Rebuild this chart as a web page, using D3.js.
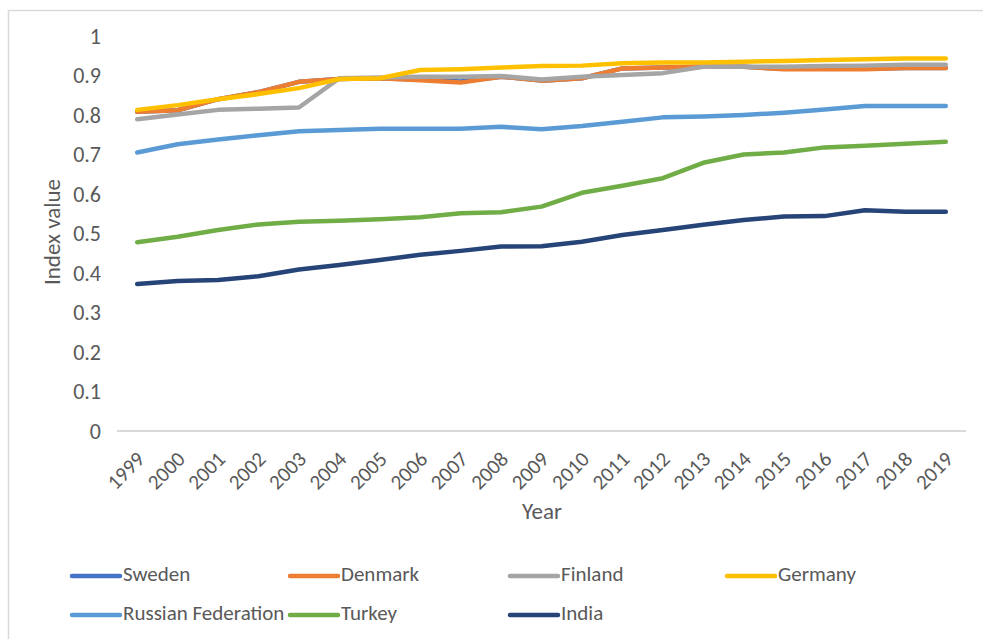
<!DOCTYPE html>
<html>
<head>
<meta charset="utf-8">
<script src="https://cdn.jsdelivr.net/npm/d3@7"></script>
<style>
  body { margin: 0; background: #fff; }
  text { font-family: Carlito, Calibri, "Liberation Sans Narrow", "Open Sans", sans-serif; fill: #595959; }
</style>
</head>
<body>
<div id="chart"></div>
<script>
const years = ["1999","2000","2001","2002","2003","2004","2005","2006","2007","2008","2009",
               "2010","2011","2012","2013","2014","2015","2016","2017","2018","2019"];
const yTicks = [0, 0.1, 0.2, 0.3, 0.4, 0.5, 0.6, 0.7, 0.8, 0.9, 1];

// Sweden sits underneath the Nordic/German lines and is not visible in the chart
const sweden   = [0.808,0.812,0.840,0.858,0.884,0.891,0.893,0.890,0.885,0.897,0.887,0.893,0.918,0.920,0.922,0.922,0.917,0.917,0.917,0.919,0.919];
const denmark  = [0.808,0.812,0.840,0.858,0.884,0.891,0.893,0.888,0.882,0.897,0.887,0.893,0.918,0.920,0.922,0.922,0.916,0.916,0.916,0.919,0.919];
const finland  = [0.789,0.801,0.813,0.816,0.819,0.893,0.895,0.897,0.897,0.899,0.890,0.897,0.901,0.906,0.922,0.922,0.922,0.924,0.925,0.927,0.927];
const germany  = [0.813,0.825,0.840,0.853,0.868,0.891,0.893,0.914,0.916,0.920,0.924,0.925,0.931,0.933,0.933,0.935,0.937,0.939,0.941,0.943,0.943];
const russia   = [0.705,0.726,0.738,0.749,0.759,0.762,0.765,0.765,0.765,0.770,0.764,0.772,0.783,0.794,0.796,0.800,0.806,0.814,0.823,0.823,0.823];
const turkey   = [0.478,0.492,0.509,0.523,0.530,0.532,0.536,0.541,0.551,0.554,0.568,0.603,0.621,0.640,0.679,0.700,0.705,0.718,0.722,0.727,0.732];
const india    = [0.372,0.380,0.382,0.392,0.409,0.420,0.433,0.446,0.456,0.467,0.468,0.479,0.496,0.509,0.522,0.534,0.543,0.544,0.559,0.555,0.555];

const seriesNames  = ["Sweden","Denmark","Finland","Germany","Russian Federation","Turkey","India"];
const seriesValues = [sweden, denmark, finland, germany, russia, turkey, india];
const seriesColors = ["#4472C4","#ED7D31","#A5A5A5","#FFC000","#5B9BD5","#70AD47","#264478"];

const W = 983, H = 639;
const margin = {top: 36, left: 117, right: 17, bottom: 208};
const width = W - margin.left - margin.right,
      height = H - margin.top - margin.bottom;

const svg = d3.select("#chart").append("svg")
    .attr("width", W)
    .attr("height", H);

// chart frame (only top/left edges fall inside the picture)
svg.append("rect")
    .attr("x", 8.5).attr("y", 10.5)
    .attr("width", W + 20).attr("height", H + 20)
    .attr("fill", "none")
    .attr("stroke", "#d9d9d9")
    .attr("stroke-width", 1.5);

const g = svg.append("g")
    .attr("transform", `translate(${margin.left},${margin.top})`);

const x = d3.scaleBand()
    .domain(years)
    .range([0, width]);

const y = d3.scaleLinear()
    .domain([0, 1])
    .range([height, 0]);

// y tick labels
const yAxis = d3.axisLeft(y)
    .tickValues(yTicks)
    .tickFormat(d => d === 0 || d === 1 ? d3.format("d")(d) : d3.format(".1f")(d))
    .tickSize(0)
    .tickPadding(16);

g.append("g")
    .attr("class", "y axis")
    .call(yAxis)
    .call(s => s.select(".domain").remove())
    .selectAll("text")
      .style("font-size", "22px")
      .style("fill", "#595959");

// baseline
g.append("line")
    .attr("x1", 0).attr("x2", width)
    .attr("y1", y(0)).attr("y2", y(0))
    .attr("stroke", "#d9d9d9")
    .attr("stroke-width", 2);

// x tick labels
const xAxis = d3.axisBottom(x)
    .tickSize(0)
    .tickPadding(0);

g.append("g")
    .attr("class", "x axis")
    .attr("transform", `translate(0,${height})`)
    .call(xAxis)
    .call(s => s.select(".domain").remove())
    .selectAll("text")
      .attr("dy", null)
      .attr("transform", "translate(5,26) rotate(-45)")
      .style("text-anchor", "end")
      .style("dominant-baseline", "middle")
      .style("font-size", "21px")
      .style("fill", "#595959");

g.selectAll(".axis").attr("font-family", null);

// axis titles
g.append("text")
    .attr("transform", `translate(${55 - margin.left},${232 - margin.top}) rotate(-90)`)
    .attr("text-anchor", "middle")
    .attr("dominant-baseline", "middle")
    .style("font-size", "23px")
    .text("Index value");

g.append("text")
    .attr("x", 542 - margin.left)
    .attr("y", 514 - margin.top)
    .attr("text-anchor", "middle")
    .attr("dominant-baseline", "middle")
    .style("font-size", "23px")
    .text("Year");

// lines
const line = d3.line()
    .x((d, i) => x(years[i]) + x.bandwidth() / 2)
    .y(d => y(d));

g.selectAll(".series")
    .data(seriesValues)
  .enter().append("path")
    .attr("class", "series")
    .attr("d", line)
    .attr("fill", "none")
    .attr("stroke", (d, i) => seriesColors[i])
    .attr("stroke-width", 4.5)
    .attr("stroke-linejoin", "round")
    .attr("stroke-linecap", "round");

// legend
const legendX = [72, 290, 510, 727];
const legendY = [576, 615];

const legend = svg.selectAll(".legend")
    .data(seriesNames)
  .enter().append("g")
    .attr("class", "legend")
    .attr("transform", (d, i) => `translate(${legendX[i % 4]},${legendY[Math.floor(i / 4)]})`);

legend.append("line")
    .attr("x1", 0).attr("x2", 48)
    .attr("stroke", (d, i) => seriesColors[i])
    .attr("stroke-width", 4.5)
    .attr("stroke-linecap", "round");

legend.append("text")
    .attr("x", 51)
    .attr("dominant-baseline", "middle")
    .style("font-size", "21px")
    .text(d => d);
</script>
</body>
</html>
